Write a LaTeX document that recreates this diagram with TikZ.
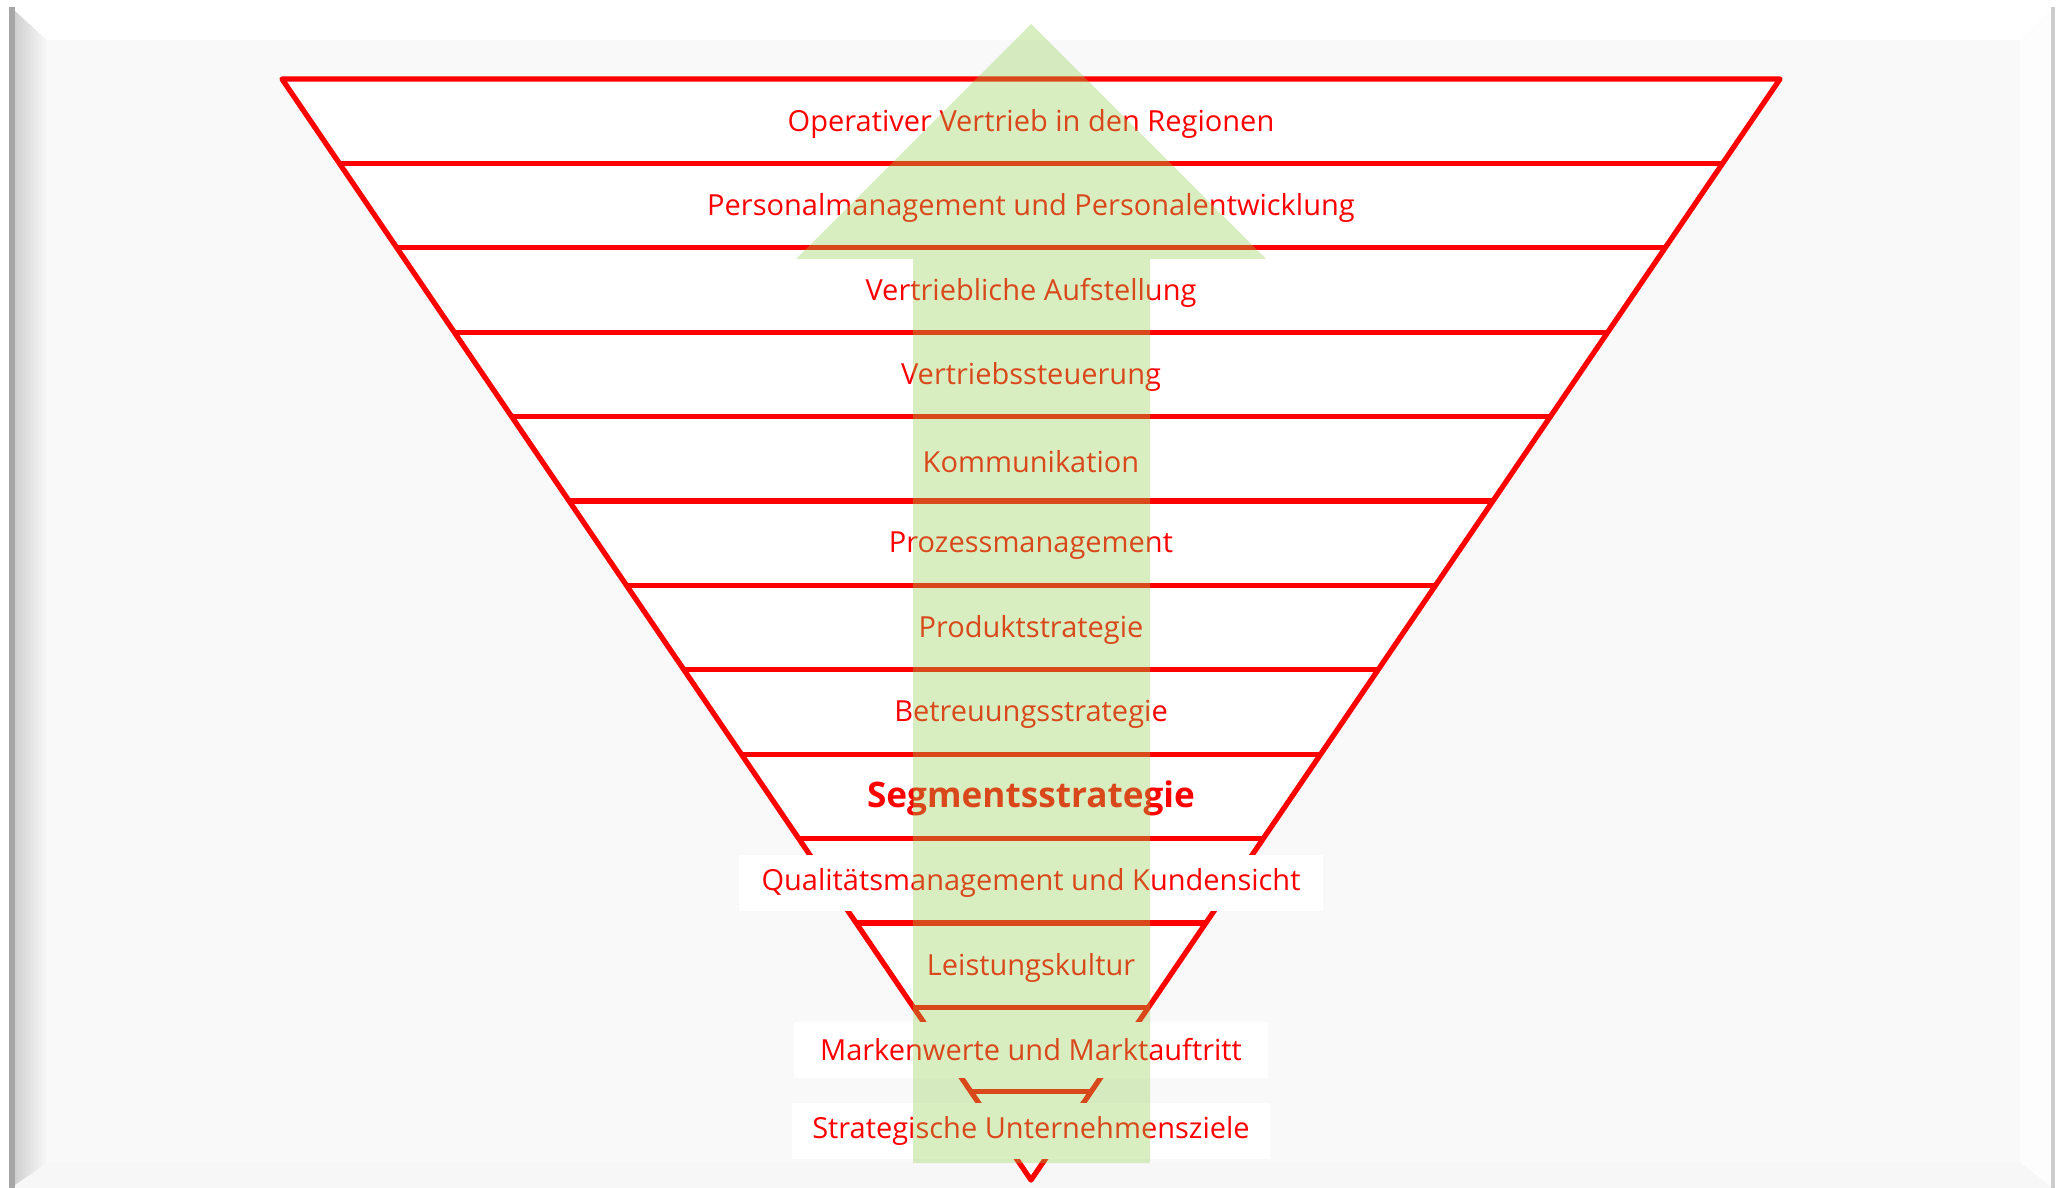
\documentclass[tikz,border=0pt]{standalone}
\usepackage{fontspec}
\setmainfont{Open Sans}
\usetikzlibrary{calc}

\definecolor{funnelred}{RGB}{255,0,0}
\definecolor{panelgray}{RGB}{249,249,249}
\definecolor{arrowgreen}{RGB}{146,208,80}

\begin{document}
\begin{tikzpicture}[x=0.01cm, y=-0.01cm,
    level/.style={text=funnelred, font=\fontsize{8.25}{10}\selectfont},
    keylevel/.style={text=funnelred, font=\fontsize{10}{12}\selectfont\bfseries},
    basebox/.style={level, fill=white, minimum height=0.56cm, inner sep=0pt}]
  \useasboundingbox (0,0) rectangle (2060,1188);
  \fill[white] (0,0) rectangle (2060,1188);
  % bevelled panel
  \fill[panelgray] (11,7) rectangle (2053,1188);
  \shade[left color=black!20, right color=panelgray] (11,7) -- (47,40) -- (47,1163) -- (11,1188) -- cycle;
  \fill[white] (11,7) -- (2053,7) -- (2020,40) -- (47,40) -- cycle;
  \fill[white!60!panelgray] (2053,7) -- (2053,1188) -- (2020,1163) -- (2020,40) -- cycle;
  \fill[black!3] (11,1188) -- (2053,1188) -- (2020,1163) -- (47,1163) -- cycle;
  \draw[black!35, line width=1.5] (12,7) -- (12,1188);
  \draw[black!20, line width=1] (2053,7) -- (2053,1188);

  % funnel
  \coordinate (tl) at (282,79);
  \coordinate (tr) at (1780,79);
  \coordinate (apex) at (1031,1180);
  \fill[white] (tl) -- (tr) -- (apex) -- cycle;
  \draw[funnelred, line width=1.5pt, line join=round] (tl) -- (tr) -- (apex) -- cycle;
  \foreach \k in {1,...,12}
    \draw[funnelred, line width=1.5pt] ($(tl)!{\k*0.07666}!(apex)$) -- ($(tr)!{\k*0.07666}!(apex)$);

  % levels
  \foreach \k/\txt in {0/Operativer Vertrieb in den Regionen,
                       1/Personalmanagement und Personalentwicklung,
                       2/Vertriebliche Aufstellung,
                       3/Vertriebssteuerung,
                       4/Kommunikation,
                       5/Prozessmanagement,
                       6/Produktstrategie,
                       7/Betreuungsstrategie,
                       10/Leistungskultur}
    \node[level] (row\k) at (1031,{124+84.4*\k}) {\txt};
  \node[keylevel] (row8) at (1031,{123+84.4*8}) {Segmentsstrategie};
  \node[basebox, minimum width=5.83cm] (row9) at (1031,883) {Qualitätsmanagement und Kundensicht};
  \node[basebox, minimum width=4.73cm] (row11) at (1031,1050) {Markenwerte und Marktauftritt};
  \node[basebox, minimum width=4.78cm] (row12) at (1031,1131) {Strategische Unternehmensziele};

  % upward arrow
  \fill[arrowgreen, opacity=0.35] (1031,24) -- (1266,259) -- (1150,259) -- (1150,1163)
    -- (913,1163) -- (913,259) -- (796,259) -- cycle;
\end{tikzpicture}
\end{document}
